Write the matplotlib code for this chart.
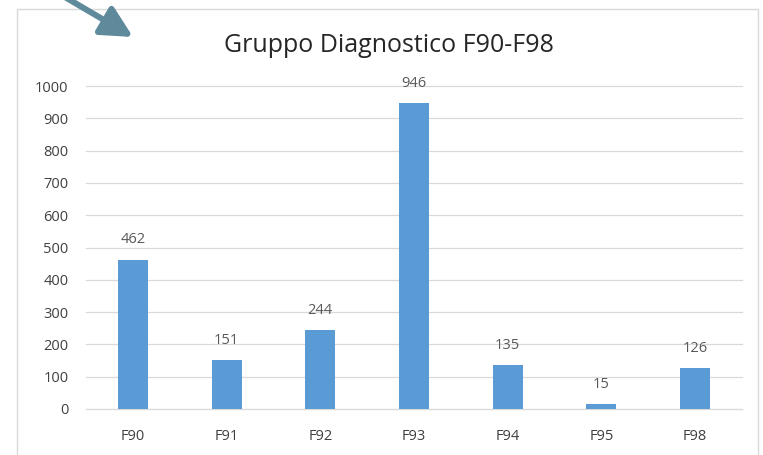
import matplotlib
matplotlib.use("Agg")
import matplotlib.pyplot as plt
from matplotlib.patches import Rectangle, FancyArrowPatch

categories = ["F90", "F91", "F92", "F93", "F94", "F95", "F98"]
values = [462, 151, 244, 946, 135, 15, 126]
yticks = [0, 100, 200, 300, 400, 500, 600, 700, 800, 900, 1000]

W, H = 763, 455
fig = plt.figure(figsize=(W / 100, H / 100), dpi=100)
plt.rcParams['font.family'] = ['Open Sans', 'DejaVu Sans']

# outer chart frame
fig.patches.append(Rectangle((17 / W, -0.05), (758 - 17) / W, 1.05 - 9 / H,
                             transform=fig.transFigure, fill=False,
                             edgecolor="#d9d9d9", lw=1.0))

ax = fig.add_axes([86 / W, (H - 409) / H, (742 - 86) / W, (409 - 86) / H])
x = range(len(categories))
ax.bar(x, values, width=0.32, color="#5b9bd5", zorder=3)
for xi, v in zip(x, values):
    ax.annotate(str(v), (xi, v), xytext=(0, 20), textcoords="offset pixels",
                ha="center", va="center", fontsize=10.5, color="#595959")

ax.set_ylim(0, 1000)
ax.set_xlim(-0.5, len(categories) - 0.5)
ax.set_yticks(yticks)
ax.set_xticks(list(x))
ax.set_xticklabels(categories)
ax.yaxis.grid(True, color="#d9d9d9", lw=0.9, zorder=0)
ax.set_axisbelow(True)
for s in ["top", "right", "left"]:
    ax.spines[s].set_visible(False)
ax.spines["bottom"].set_color("#d9d9d9")
ax.tick_params(axis="both", length=0, labelsize=10.5, colors="#404040")
ax.tick_params(axis="y", pad=12.5)
ax.tick_params(axis="x", pad=14.5)
for gl in ax.get_ygridlines():
    gl.set_clip_on(False)

fig.text(389 / W, 1 - 46 / H, "Gruppo Diagnostico F90-F98", ha="center", va="center",
         fontsize=18, color="#262626")

# arrow in the top-left corner
arr = FancyArrowPatch((58 / W, 1 + 7 / H), (133 / W, 1 - 37 / H),
                      transform=fig.transFigure,
                      arrowstyle="-|>,head_length=9,head_width=4.6",
                      lw=4.3, color="#5f8a9c", mutation_scale=2.1,
                      shrinkA=0, shrinkB=0)
fig.patches.append(arr)

fig.savefig("out.png", dpi=100, facecolor="white")
